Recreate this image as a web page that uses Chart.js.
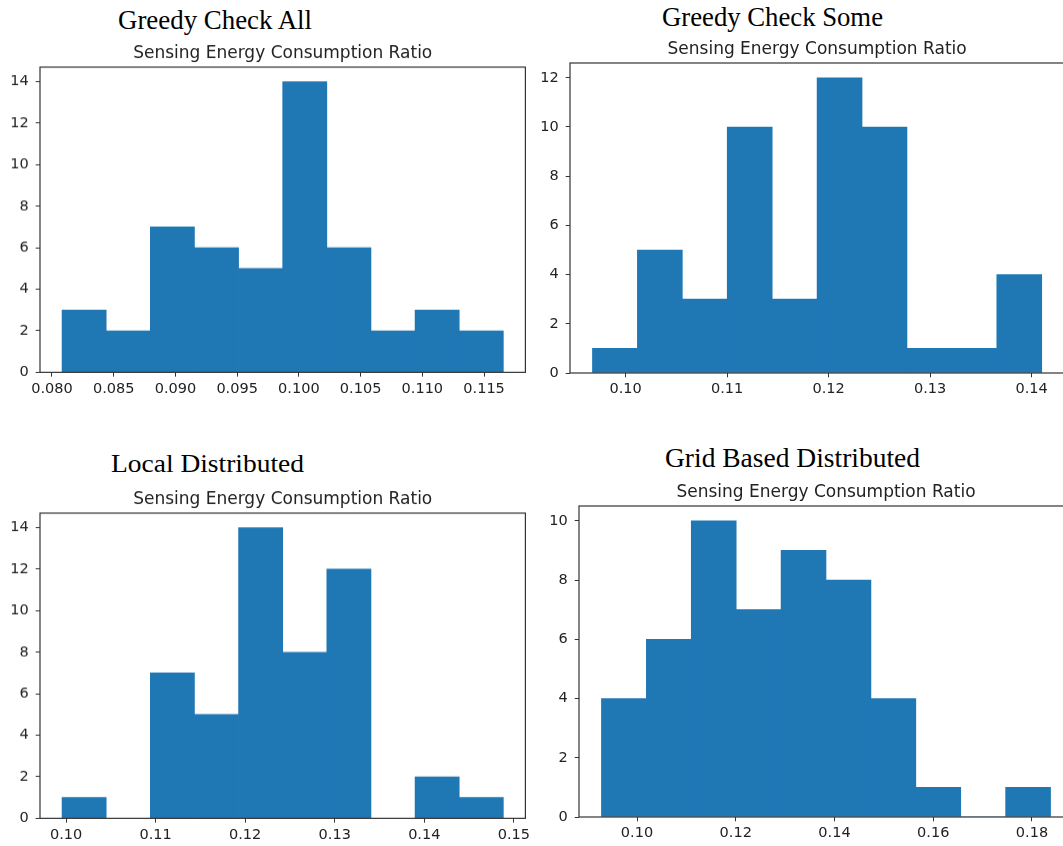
<!DOCTYPE html>
<html>
<head>
<meta charset="utf-8">
<script src="https://cdn.jsdelivr.net/npm/chart.js@4.4.1/dist/chart.umd.min.js"></script>
<style>
  html, body { margin: 0; padding: 0; background: #fff; }
  body { position: relative; width: 1063px; height: 846px; overflow: hidden; }
  .panel { position: absolute; }
  .heading {
    position: absolute;
    font-family: 'Liberation Serif', 'Times New Roman', serif;
    color: #000;
    line-height: 1;
    white-space: nowrap;
    transform-origin: 0 0;
  }
</style>
</head>
<body>
<script>
// Histogram counts (10 bins each) and the value range the bins cover
const greedyAllCounts = [3, 2, 7, 6, 5, 14, 6, 2, 3, 2];
const greedyAllRange = [0.08082, 0.11656];
const greedyAllXTicks = [0.080, 0.085, 0.090, 0.095, 0.100, 0.105, 0.110, 0.115];
const greedyAllYTicks = [0, 2, 4, 6, 8, 10, 12, 14];

const greedySomeCounts = [1, 5, 3, 10, 3, 12, 10, 1, 1, 4];
const greedySomeRange = [0.09673, 0.14100];
const greedySomeXTicks = [0.10, 0.11, 0.12, 0.13, 0.14];
const greedySomeYTicks = [0, 2, 4, 6, 8, 10, 12];

const localCounts = [1, 0, 7, 5, 14, 8, 12, 0, 2, 1];
const localRange = [0.09955, 0.14883];
const localXTicks = [0.10, 0.11, 0.12, 0.13, 0.14, 0.15];
const localYTicks = [0, 2, 4, 6, 8, 10, 12, 14];

const gridCounts = [4, 6, 10, 7, 9, 8, 4, 1, 0, 1];
const gridRange = [0.0928, 0.18376];
const gridXTicks = [0.10, 0.12, 0.14, 0.16, 0.18];
const gridYTicks = [0, 2, 4, 6, 8, 10];

const subTitle = 'Sensing Energy Consumption Ratio';

const BLUE = '#1f77b4';
const INK = '#333333';
const TEXT = '#222222';

// space reserved around each plot box inside its canvas
const Y_AXIS_W = 40;
const X_AXIS_H = 32;
const TITLE_H = 24;
const PAD_RIGHT = 14;
const TITLE_SIZE = 17;
const TICK_SIZE = 14.5;

// serif headings above each panel
const headings = [
    { text: 'Greedy Check All', left: 118, width: 194, baseline: 29.3, size: 28 },
    { text: 'Greedy Check Some', left: 662, width: 221, baseline: 26.7, size: 28 },
    { text: 'Local Distributed', left: 111, width: 193, baseline: 472.3, size: 26 },
    { text: 'Grid Based Distributed', left: 665, width: 255, baseline: 467.3, size: 27 }
];

headings.forEach(h => {
    const el = document.createElement('div');
    el.className = 'heading';
    el.textContent = h.text;
    el.style.fontSize = h.size + 'px';
    el.style.left = h.left + 'px';
    el.style.top = (h.baseline - 0.8375 * h.size) + 'px';
    document.body.appendChild(el);
    const natural = el.getBoundingClientRect().width;
    el.style.transform = `scaleX(${h.width / natural})`;
});

// draws the four spines around the plot area
const framePlugin = {
    id: 'frame',
    afterDatasetsDraw(chart) {
        const { ctx, chartArea: a } = chart;
        ctx.save();
        ctx.strokeStyle = INK;
        ctx.lineWidth = 1.2;
        ctx.strokeRect(a.left, a.top, a.right - a.left, a.bottom - a.top);
        ctx.restore();
    }
};

function histogram(p) {
    const n = p.counts.length;
    const [lo, hi] = p.range;
    const w = (hi - lo) / n;
    const bars = p.counts.map((c, i) => ({ x: lo + (i + 0.5) * w, y: c }));
    const margin = 0.05 * (hi - lo);
    const yMax = 1.05 * Math.max(...p.counts);

    const box = document.createElement('div');
    box.className = 'panel';
    const left = p.plot.left - Y_AXIS_W;
    const top = p.plot.top - TITLE_H;
    const width = p.plot.right - left + PAD_RIGHT;
    const height = p.plot.bottom - top + X_AXIS_H;
    box.style.left = left + 'px';
    box.style.top = top + 'px';
    box.style.width = width + 'px';
    box.style.height = height + 'px';
    const canvas = document.createElement('canvas');
    box.appendChild(canvas);
    document.body.appendChild(box);

    const tickGrid = {
        display: true,
        drawOnChartArea: false,
        drawTicks: true,
        tickLength: 4.3,
        color: INK,
        lineWidth: 1
    };
    const tickFont = { family: 'DejaVu Sans', size: TICK_SIZE, lineHeight: 1.2 };

    return new Chart(canvas, {
        type: 'bar',
        data: {
            datasets: [{
                data: bars,
                backgroundColor: BLUE,
                borderWidth: 0,
                barPercentage: 1,
                categoryPercentage: 1
            }]
        },
        options: {
            responsive: true,
            maintainAspectRatio: false,
            animation: false,
            devicePixelRatio: 1,
            layout: { padding: { left: 0, top: 0, right: PAD_RIGHT, bottom: 0 } },
            plugins: {
                legend: { display: false },
                tooltip: { enabled: false },
                title: {
                    display: true,
                    text: subTitle,
                    fullSize: false,
                    color: TEXT,
                    font: { family: 'DejaVu Sans', size: TITLE_SIZE, weight: 'normal', lineHeight: 1.2 },
                    padding: { top: 0, bottom: TITLE_H - TITLE_SIZE * 1.2 }
                }
            },
            scales: {
                x: {
                    type: 'linear',
                    min: lo - margin,
                    max: hi + margin,
                    offset: false,
                    grid: { ...tickGrid, offset: false },
                    border: { display: false },
                    afterBuildTicks: axis => { axis.ticks = p.xTicks.map(v => ({ value: v })); },
                    afterFit: axis => { axis.height = X_AXIS_H; },
                    ticks: {
                        autoSkip: false,
                        maxRotation: 0,
                        padding: 3.4,
                        color: TEXT,
                        font: tickFont,
                        callback: v => Number(v).toFixed(p.decimals)
                    }
                },
                y: {
                    type: 'linear',
                    min: 0,
                    max: yMax,
                    grid: tickGrid,
                    border: { display: false },
                    afterBuildTicks: axis => { axis.ticks = p.yTicks.map(v => ({ value: v })); },
                    afterFit: axis => { axis.width = Y_AXIS_W; },
                    ticks: {
                        padding: 7,
                        color: TEXT,
                        font: tickFont,
                        callback: v => String(v)
                    }
                }
            }
        },
        plugins: [framePlugin]
    });
}

histogram({
    counts: greedyAllCounts, range: greedyAllRange,
    xTicks: greedyAllXTicks, yTicks: greedyAllYTicks, decimals: 3,
    plot: { left: 39.6, top: 67.3, right: 525, bottom: 371.7 }
});
histogram({
    counts: greedySomeCounts, range: greedySomeRange,
    xTicks: greedySomeXTicks, yTicks: greedySomeYTicks, decimals: 2,
    plot: { left: 569.8, top: 63.3, right: 1064, bottom: 373.3 }
});
histogram({
    counts: localCounts, range: localRange,
    xTicks: localXTicks, yTicks: localYTicks, decimals: 2,
    plot: { left: 39.6, top: 513.3, right: 525, bottom: 817.7 }
});
histogram({
    counts: gridCounts, range: gridRange,
    xTicks: gridXTicks, yTicks: gridYTicks, decimals: 2,
    plot: { left: 578.6, top: 505.7, right: 1072.6, bottom: 816.7 }
});
</script>
</body>
</html>
